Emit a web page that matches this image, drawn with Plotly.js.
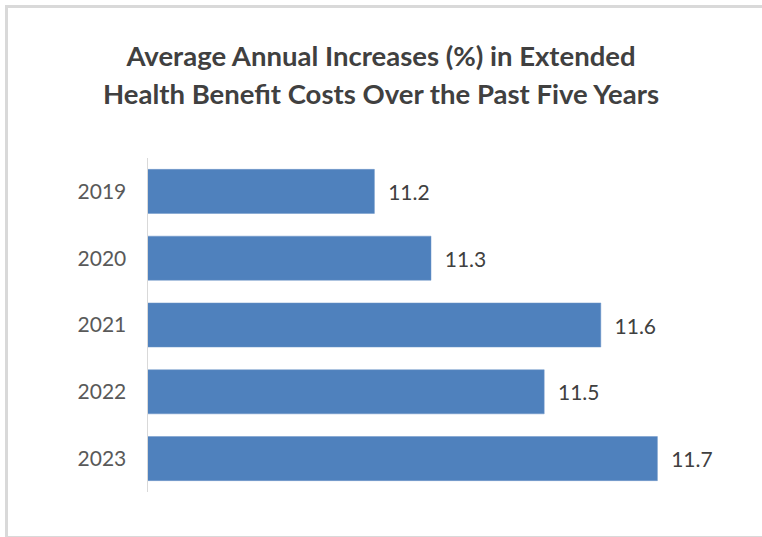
<!DOCTYPE html>
<html>
<head>
<meta charset="utf-8">
<script src="https://cdn.plot.ly/plotly-3.0.1.min.js"></script>
<style>
  html, body { margin: 0; padding: 0; background: #ffffff; }
  #wrap { position: relative; width: 762px; height: 537px; overflow: hidden; }
  #frame { position: absolute; left: 5px; top: 5px; width: 800px; height: 528px;
           border-left: 3px solid #d9d9d9; border-top: 3px solid #d9d9d9; border-bottom: 2px solid #d9d9d9; }
  #chart { position: absolute; left: 0; top: 0; width: 762px; height: 537px; }
</style>
</head>
<body>
<div id="wrap">
  <div id="frame"></div>
  <div id="chart"></div>
</div>
<script>
const years = ["2019", "2020", "2021", "2022", "2023"];
const increases = [11.2, 11.3, 11.6, 11.5, 11.7];
const titleLines = ["Average Annual Increases (%) in Extended", "Health Benefit Costs Over the Past Five Years"];

const FONT = 'Lato, "Open Sans", "Liberation Sans", sans-serif';

const trace = {
  type: 'bar',
  orientation: 'h',
  y: years,
  x: increases,
  marker: { color: '#4F81BD', line: { color: '#6f97c9', width: 0.5 } },
  width: 0.66,
  text: increases.map(v => '\u00a0\u00a0' + v.toFixed(1)),
  texttemplate: '%{text}',
  textposition: 'outside',
  cliponaxis: false,
  textfont: { family: FONT, size: 21, color: '#404040' },
  hoverinfo: 'x+y'
};

const layout = {
  width: 762,
  height: 537,
  paper_bgcolor: 'rgba(0,0,0,0)',
  plot_bgcolor: 'rgba(0,0,0,0)',
  margin: { l: 148, r: 48, t: 158, b: 45 },
  title: {
    text: titleLines.map(s => '<span style="font-size:27.5px">' + s + '</span>').join('<br>'),
    font: { family: FONT, size: 29, color: '#404040', weight: 'bold' },
    x: 0.5,
    xanchor: 'center',
    xref: 'container',
    yref: 'container',
    y: 1 - 66 / 537,
    yanchor: 'middle'
  },
  xaxis: {
    range: [10.8, 11.8],
    visible: false,
    showgrid: false,
    zeroline: false,
    fixedrange: true
  },
  yaxis: {
    autorange: 'reversed',
    type: 'category',
    showline: true,
    linecolor: '#d9d9d9',
    linewidth: 1.5,
    ticks: '',
    ticklabelstandoff: 16,
    tickfont: { family: FONT, size: 21, color: '#595959' },
    showgrid: false,
    zeroline: false,
    fixedrange: true
  },
  bargap: 0.34,
  showlegend: false
};

Plotly.newPlot('chart', [trace], layout, { displayModeBar: false, staticPlot: true });
</script>
</body>
</html>
